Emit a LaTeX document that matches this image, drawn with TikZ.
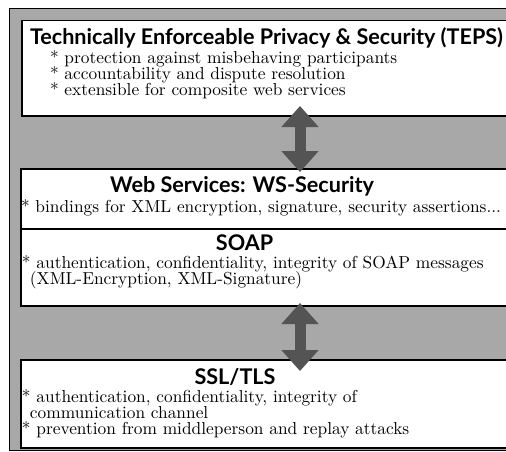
\documentclass[tikz,border=0pt]{standalone}
\usepackage{fontspec}
\usetikzlibrary{arrows.meta,shadows}
\newfontfamily\headfont{Lato}
\definecolor{bggray}{RGB}{168,168,168}
\definecolor{arrgray}{RGB}{84,84,84}
\newlength\wref
\tikzset{
  layerbox/.style={draw=black, fill=white, line width=1.8pt, rectangle, inner sep=0pt,
    anchor=north west, minimum width=520pt,
    drop shadow={shadow xshift=-1.3pt, shadow yshift=-1.3pt, fill=black, opacity=1}},
  headtxt/.style={anchor=base, inner sep=0pt, outer sep=0pt, font=\hd},
  titletxt/.style={anchor=base west, inner sep=0pt, outer sep=0pt, font=\hd},
  bodytxt/.style={anchor=base west, inner sep=0pt, outer sep=0pt,
    text height=10pt, text depth=2.5pt},
  bigarrow/.style={draw=arrgray, line width=11pt,
    {Triangle[width=36pt,length=21pt]}-{Triangle[width=36pt,length=21pt]}}
}
\begin{document}
\settowidth\wref{\headfont\bfseries\fontsize{10pt}{12pt}\selectfont Technically Enforceable Privacy \& Security (TEPS)}
\pgfmathsetmacro\headsize{10*473/\wref}
\settowidth\wref{\fontsize{10pt}{12pt}\selectfont * bindings for XML encryption, signature, security assertions...}
\pgfmathsetmacro\bodyscale{480/\wref}
\newcommand\hd{\headfont\bfseries\fontsize{\headsize pt}{20pt}\selectfont}
\newcommand\bd[1]{\scalebox{\bodyscale}{\fontsize{10pt}{12pt}\selectfont #1}}
\begin{tikzpicture}[x=1pt,y=-1pt]
\useasboundingbox (0,0) rectangle (506,451);
\clip (0,0) rectangle (506,451);
\fill[white] (0,0) rectangle (506,451);
\draw[fill=bggray, line width=1.2pt] (9.5,8.5) rectangle (530,450.3);
% boxes
\node[layerbox, minimum height=95pt] (teps) at (21,19.5) {};
\node[layerbox, minimum height=60pt] (ws) at (20,168) {};
\node[layerbox, minimum height=77pt] (soap) at (20,228) {};
\node[layerbox, minimum height=88pt] (ssl) at (20,359) {};
% arrows
\coordinate (a1t) at (300,106);
\coordinate (a1b) at (300,172);
\coordinate (a2t) at (300,303);
\coordinate (a2b) at (300,371);
\draw[bigarrow] (a1t) -- (a1b);
\draw[bigarrow] (a2t) -- (a2b);
% texts box 1
\node[titletxt] (t0) at (30,44) {Technically Enforceable Privacy \& Security (TEPS)};
\node[bodytxt] (t1) at (50,63) {\bd{* protection against misbehaving participants}};
\node[bodytxt] (t2) at (50,79) {\bd{* accountability and dispute resolution}};
\node[bodytxt] (t3) at (50,95) {\bd{* extensible for composite web services}};
% box 2
\node[headtxt] (w0) at (242,192) {Web Services: WS-Security};
\node[bodytxt] (w1) at (21,212) {\bd{* bindings for XML encryption, signature, security assertions...}};
% box 3
\node[headtxt] (s0) at (244.5,250) {SOAP};
\node[bodytxt] (s1) at (22,268) {\bd{* authentication, confidentiality, integrity of SOAP messages}};
\node[bodytxt] (s2) at (30,284) {\bd{(XML-Encryption, XML-Signature)}};
% box 4
\node[headtxt] (l0) at (235,384) {SSL/TLS};
\node[bodytxt] (l1) at (22,402) {\bd{* authentication, confidentiality, integrity of}};
\node[bodytxt] (l2) at (30,418) {\bd{communication channel}};
\node[bodytxt] (l3) at (22,434) {\bd{* prevention from middleperson and replay attacks}};
\end{tikzpicture}
\end{document}
